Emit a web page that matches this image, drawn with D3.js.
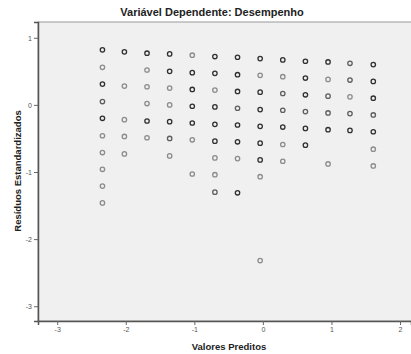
<!DOCTYPE html>
<html>
<head>
<meta charset="utf-8">
<script src="https://cdn.jsdelivr.net/npm/d3@7"></script>
<style>
  body { margin: 0; background: #fff; }
  svg { display: block; font-family: "Liberation Sans", Arial, sans-serif; }
</style>
</head>
<body>
<svg id="chart" width="411" height="354"></svg>
<script>
// standardized predicted values, one per column of dots
const predicted = [-2.34, -2.02, -1.69, -1.36, -1.03, -0.70, -0.37, -0.04, 0.29, 0.62, 0.95, 1.27, 1.61];

// standardized residuals in each column (top to bottom)
const residuals = [
  [0.82, 0.56, 0.31, 0.05, -0.20, -0.46, -0.71, -0.96, -1.21, -1.46],
  [0.79, 0.28, -0.22, -0.47, -0.73],
  [0.77, 0.52, 0.27, 0.02, -0.24, -0.49],
  [0.76, 0.50, 0.25, 0.00, -0.25, -0.50, -0.76],
  [0.74, 0.48, 0.23, -0.02, -0.27, -0.52, -1.03],
  [0.72, 0.47, 0.22, -0.03, -0.29, -0.54, -0.79, -1.04, -1.30],
  [0.71, 0.45, 0.20, -0.05, -0.30, -0.55, -0.80, -1.31],
  [0.69, 0.44, 0.19, -0.07, -0.32, -0.57, -0.82, -1.07, -2.32],
  [0.67, 0.42, 0.17, -0.08, -0.33, -0.59, -0.84],
  [0.65, 0.40, 0.15, -0.10, -0.35, -0.60],
  [0.64, 0.38, 0.13, -0.12, -0.37, -0.88],
  [0.62, 0.37, 0.12, -0.13, -0.38],
  [0.60, 0.35, 0.10, -0.15, -0.40, -0.66, -0.91]
];

// how many cases overlap at each dot (1 = single, 3 = many), same layout as residuals
const overlap = [
  [3, 1, 3, 2, 3, 1, 1, 1, 1, 1],
  [3, 1, 1, 1, 1],
  [3, 1, 1, 1, 3, 1],
  [3, 3, 1, 1, 3, 2, 1],
  [1, 3, 3, 3, 3, 1, 1],
  [3, 3, 1, 3, 3, 3, 1, 1, 2],
  [3, 3, 3, 2, 3, 3, 1, 3],
  [3, 1, 3, 3, 3, 3, 3, 1, 1],
  [3, 1, 2, 2, 3, 1, 1],
  [3, 3, 3, 2, 3, 3],
  [3, 1, 2, 2, 3, 1],
  [2, 2, 1, 2, 3],
  [3, 3, 3, 2, 3, 1, 1]
];

const xTicks = [-3, -2, -1, 0, 1, 2];
const yTicks = [1, 0, -1, -2, -3];

const points = [];
predicted.forEach((p, i) => {
  residuals[i].forEach((r, j) => points.push({ x: p, y: r, n: overlap[i][j] }));
});

const svg = d3.select("#chart");
const plotLeft = 38, plotRight = 411, plotTop = 22, plotBottom = 321;

const x = d3.scaleLinear().domain([-3.28, 2.16]).range([plotLeft, plotRight]);
const y = d3.scaleLinear().domain([-3.22, 1.235]).range([plotBottom, plotTop]);
const shade = d3.scaleOrdinal().domain([1, 2, 3]).range(["#8c8c8c", "#5e5e5e", "#303030"]);

// plot background
svg.append("rect")
  .attr("x", plotLeft).attr("y", plotTop)
  .attr("width", plotRight - plotLeft + 2).attr("height", plotBottom - plotTop)
  .attr("fill", "#f0f0f0")
  .attr("stroke", "#9a9a9a");

// axes
const xAxis = svg.append("g")
  .attr("transform", "translate(0," + plotBottom + ")")
  .call(d3.axisBottom(x).tickValues(xTicks).tickFormat(d => String(d)).tickSize(4).tickPadding(2));
const yAxis = svg.append("g")
  .attr("transform", "translate(" + plotLeft + ",0)")
  .call(d3.axisLeft(y).tickValues(yTicks).tickFormat(d => String(d)).tickSize(4).tickPadding(2));

[xAxis, yAxis].forEach(g => {
  g.select(".domain").attr("stroke", "#555").attr("stroke-width", 1.5);
  g.selectAll(".tick line").attr("stroke", "#666");
  g.selectAll(".tick text").attr("fill", "#555").style("font-size", "7px");
});

// dots
svg.append("g")
  .selectAll("circle")
  .data(points)
  .enter()
  .append("circle")
  .attr("cx", d => x(d.x))
  .attr("cy", d => y(d.y))
  .attr("r", 2.2)
  .attr("fill", "none")
  .attr("stroke", d => shade(d.n))
  .attr("stroke-width", 1.3);

// titles
svg.append("text")
  .attr("x", 212).attr("y", 16)
  .attr("text-anchor", "middle")
  .style("font-size", "11px")
  .style("font-weight", "bold")
  .attr("fill", "#222")
  .text("Variável Dependente: Desempenho");

svg.append("text")
  .attr("x", 229).attr("y", 350)
  .attr("text-anchor", "middle")
  .style("font-size", "9.5px")
  .style("font-weight", "bold")
  .attr("fill", "#222")
  .text("Valores Preditos");

svg.append("text")
  .attr("transform", "translate(21,171) rotate(-90)")
  .attr("text-anchor", "middle")
  .style("font-size", "9.5px")
  .style("font-weight", "bold")
  .attr("fill", "#222")
  .text("Resíduos Estandardizados");
</script>
</body>
</html>
